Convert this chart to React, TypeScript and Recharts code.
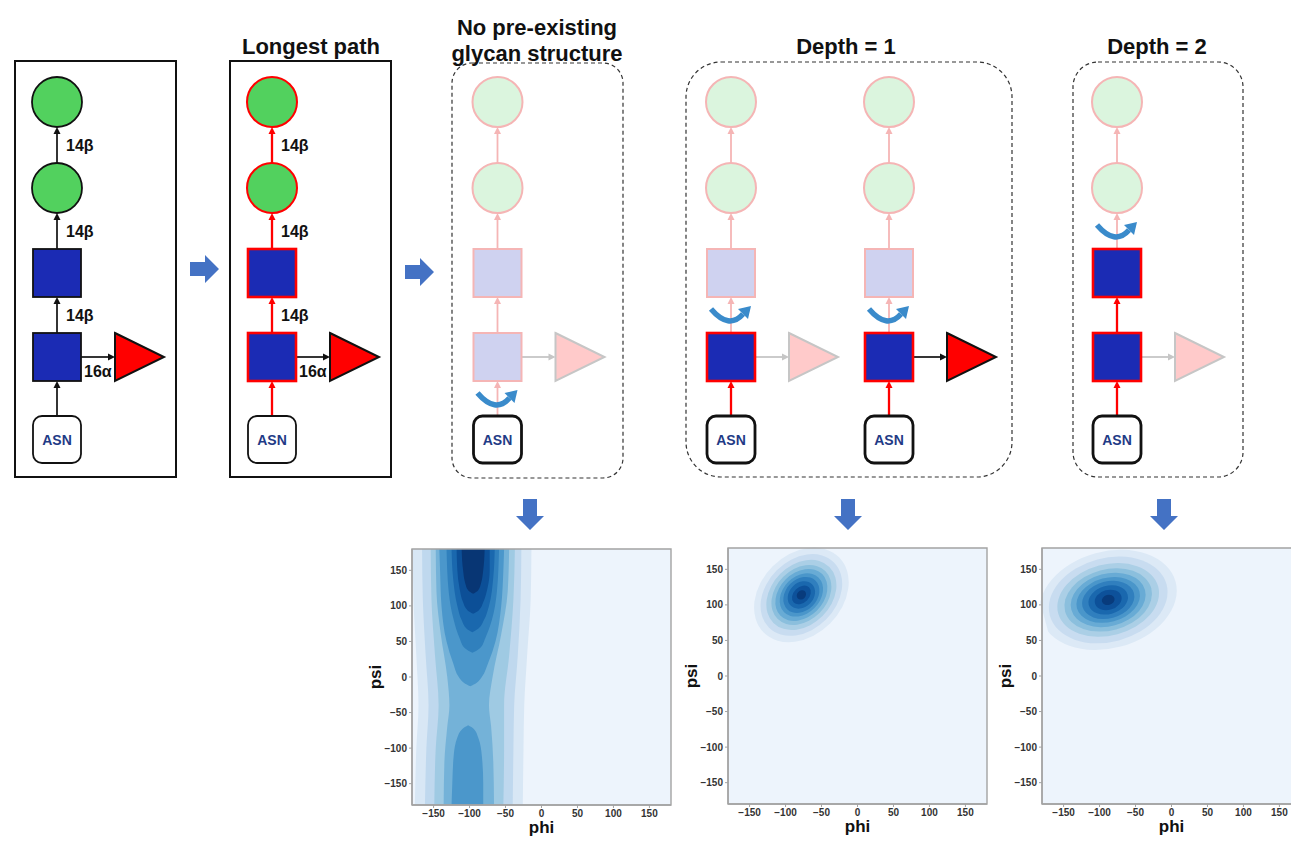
import React from "react";
import { Area, ComposedChart, ReferenceArea, Scatter, XAxis, YAxis } from "recharts";

const FONT = '"Liberation Sans", Arial, Helvetica, sans-serif';

// ---------- density maps ----------
const angleDomain: [number, number] = [-180, 180];
const phiTicks = [-150, -100, -50, 0, 50, 100, 150];
const psiTicks = [-150, -100, -50, 0, 50, 100, 150];

const kdeFloor = "#edf4fc";
const ellipseColors = ["#dce9f6", "#c8dcf0", "#abcfe6", "#8bbfdd", "#68abd5", "#4a96ca", "#307fbe", "#1a68ae", "#0d519a", "#083b7c"];

// "No pre-existing glycan structure": bands of phi (lo, hi) per psi row
const noStructFloor = [
  { psi: -180, phi: [-180, 180] },
  { psi: 180, phi: [-180, 180] },
];
const noStructLevel1 = [
  { psi: -180, phi: [-176, -26] },
  { psi: -100, phi: [-174, -25] },
  { psi: -40, phi: [-171, -24] },
  { psi: 30, phi: [-174, -20] },
  { psi: 110, phi: [-178, -15] },
  { psi: 180, phi: [-179, -14] },
];
const noStructLevel2 = [
  { psi: -180, phi: [-162, -40] },
  { psi: -100, phi: [-160, -39] },
  { psi: -40, phi: [-157, -38] },
  { psi: 30, phi: [-161, -33] },
  { psi: 110, phi: [-165, -29] },
  { psi: 180, phi: [-166, -28] },
];
const noStructLevel3 = [
  { psi: -180, phi: [-149, -53] },
  { psi: -100, phi: [-147, -52] },
  { psi: -40, phi: [-143, -52] },
  { psi: 30, phi: [-148, -45] },
  { psi: 110, phi: [-153, -39] },
  { psi: 180, phi: [-154, -37] },
];
const noStructLevel4 = [
  { psi: -180, phi: [-136, -66] },
  { psi: -120, phi: [-135, -67] },
  { psi: -70, phi: [-131, -70] },
  { psi: -40, phi: [-128, -73] },
  { psi: 0, phi: [-131, -68] },
  { psi: 60, phi: [-140, -56] },
  { psi: 120, phi: [-146, -47] },
  { psi: 180, phi: [-147, -45] },
];
const noStructLower5 = [
  { psi: -180, phi: [-125, -81] },
  { psi: -150, phi: [-124, -81] },
  { psi: -110, phi: [-122, -83] },
  { psi: -85, phi: [-117, -88] },
  { psi: -73, phi: [-110, -94] },
  { psi: -68, phi: [-102, -102] },
];
const noStructLevel5 = [
  { psi: -13, phi: [-99, -99] },
  { psi: -8, phi: [-108, -90] },
  { psi: 0, phi: [-115, -83] },
  { psi: 20, phi: [-123, -74] },
  { psi: 50, phi: [-132, -64] },
  { psi: 100, phi: [-139, -56] },
  { psi: 150, phi: [-141, -53] },
  { psi: 180, phi: [-142, -52] },
];
const noStructLevel6 = [
  { psi: 34, phi: [-96, -96] },
  { psi: 40, phi: [-106, -86] },
  { psi: 55, phi: [-114, -78] },
  { psi: 80, phi: [-122, -69] },
  { psi: 120, phi: [-129, -62] },
  { psi: 180, phi: [-132, -59] },
];
const noStructLevel7 = [
  { psi: 63, phi: [-96, -96] },
  { psi: 68, phi: [-104, -88] },
  { psi: 80, phi: [-111, -80] },
  { psi: 100, phi: [-117, -73] },
  { psi: 140, phi: [-123, -67] },
  { psi: 180, phi: [-125, -65] },
];
const noStructLevel8 = [
  { psi: 89, phi: [-95, -95] },
  { psi: 94, phi: [-103, -87] },
  { psi: 105, phi: [-109, -81] },
  { psi: 125, phi: [-114, -75] },
  { psi: 150, phi: [-117, -72] },
  { psi: 180, phi: [-118, -72] },
];
const noStructLevel9 = [
  { psi: 117, phi: [-95, -95] },
  { psi: 122, phi: [-102, -88] },
  { psi: 132, phi: [-106, -84] },
  { psi: 150, phi: [-109, -81] },
  { psi: 180, phi: [-111, -79] },
];
const noStructLevels = [
  { data: noStructFloor, color: kdeFloor },
  { data: noStructLevel1, color: "#d8e7f5" },
  { data: noStructLevel2, color: "#bfd8ee" },
  { data: noStructLevel3, color: "#9fcae3" },
  { data: noStructLevel4, color: "#74b2d8" },
  { data: noStructLower5, color: "#4b97cb" },
  { data: noStructLevel5, color: "#4b97cb" },
  { data: noStructLevel6, color: "#3080bd" },
  { data: noStructLevel7, color: "#1a68ae" },
  { data: noStructLevel8, color: "#0c4f97" },
  { data: noStructLevel9, color: "#083674" },
];

// Depth = 1 and Depth = 2: nested, tilted contours (semi-axes in degrees)
const depth1Peak = { phi: -78, psi: 114 };
const depth1Tilt = 45;
const depth1Rx = [74, 64, 55, 47, 41, 34, 28, 21, 15, 7];
const depth1Ry = [57, 49, 42, 36, 31, 26, 22, 17, 11, 6];

const depth2Peak = { phi: -88, psi: 107 };
const depth2Tilt = 15;
const depth2Rx = [97, 84, 72, 62, 53, 45, 37, 28, 19, 9];
const depth2Ry = [68, 59, 50, 43, 37, 31, 26, 20, 14, 7];

const FRAME = "#a3a3a3";
const TICK = { fontSize: 10, fontWeight: 700, fill: "#333", fontFamily: FONT };
const minus = (v: number) => String(v).replace("-", "\u2212");

function mapAxes(vertical: boolean) {
  return [
    <XAxis
      key="x"
      type="number"
      dataKey={vertical ? undefined : "phi"}
      domain={angleDomain}
      allowDataOverflow
      ticks={phiTicks}
      interval={0}
      height={35}
      tickSize={3}
      tickLine={{ stroke: FRAME }}
      axisLine={{ stroke: FRAME, strokeWidth: 1.4 }}
      tick={TICK}
      tickFormatter={minus}
      label={{ value: "phi", position: "insideBottom", offset: 7, fontSize: 17, fontWeight: 700, fill: "#111", fontFamily: FONT }}
    />,
    <YAxis
      key="y"
      type="number"
      dataKey="psi"
      reversed={vertical}
      domain={angleDomain}
      allowDataOverflow
      ticks={psiTicks}
      interval={0}
      width={52}
      tickSize={3}
      tickLine={{ stroke: FRAME }}
      axisLine={{ stroke: FRAME, strokeWidth: 1.4 }}
      tick={TICK}
      tickFormatter={minus}
      label={{ value: "psi", angle: -90, position: "insideLeft", offset: 15, fontSize: 17, fontWeight: 700, fill: "#111", fontFamily: FONT, style: { textAnchor: "middle" } }}
    />,
    <ReferenceArea key="frame" x1={-180} x2={180} y1={-180} y2={180} fill="none" fillOpacity={0} stroke={FRAME} strokeWidth={1.4} ifOverflow="visible" />,
  ];
}

function NoStructureMap() {
  return (
    <ComposedChart layout="vertical" width={320} height={300} margin={{ top: 9, right: 9, bottom: 0, left: 0 }}>
      {noStructLevels.map((lvl, i) => (
        <Area
          key={i}
          data={lvl.data}
          dataKey="phi"
          type="monotone"
          fill={lvl.color}
          fillOpacity={1}
          stroke="none"
          dot={false}
          activeDot={false}
          isAnimationActive={false}
        />
      ))}
      {mapAxes(true)}
    </ComposedChart>
  );
}

function tiltedEllipse(tilt: number, color: string) {
  return (p: any) => {
    const w = Math.abs(p.width) / 2;
    const h = Math.abs(p.height) / 2;
    const cx = p.x + p.width / 2;
    const cy = p.y + p.height / 2;
    return <ellipse cx={cx} cy={cy} rx={w} ry={h} fill={color} transform={`rotate(${-tilt} ${cx} ${cy})`} clipPath={p.clipPath} />;
  };
}

function EllipseMap({ peak, tilt, rx, ry }: { peak: { phi: number; psi: number }; tilt: number; rx: number[]; ry: number[] }) {
  return (
    <ComposedChart data={[peak]} width={320} height={300} margin={{ top: 9, right: 9, bottom: 0, left: 0 }}>
      <ReferenceArea x1={-180} x2={180} y1={-180} y2={180} fill={kdeFloor} fillOpacity={1} stroke="none" ifOverflow="hidden" />
      {rx.map((r, i) => (
        <ReferenceArea
          key={i}
          x1={peak.phi - r}
          x2={peak.phi + r}
          y1={peak.psi - ry[i]}
          y2={peak.psi + ry[i]}
          fill={ellipseColors[i]}
          fillOpacity={1}
          stroke="none"
          ifOverflow="hidden"
          shape={tiltedEllipse(tilt, ellipseColors[i])}
        />
      ))}
      <Scatter dataKey="psi" fill="none" shape={() => <g />} isAnimationActive={false} />
      {mapAxes(false)}
    </ComposedChart>
  );
}

// ---------- glycan diagrams ----------
const INK = "#111111";
const GREEN = "#52d15e";
const BLUE = "#1b2bb4";
const RED = "#ff0000";
const FADE_GREEN = "#dbf5de";
const FADE_BLUE = "#cfd2f0";
const FADE_RED = "#ffcaca";
const FADE_EDGE = "#f5b5b5";
const FADE_GRAY = "#c6c6c6";
const SWIRL = "#3a8bcb";
const BLOCK = "#4472c4";

const C1_Y = 102;
const C2_Y = 188;
const R = 25;
const SQ = 48;
const S1_TOP = 249;
const S2_TOP = 333;
const ASN_TOP = 416;

type Look = "ink" | "path" | "fade";
type Link = "ink" | "path" | "fade" | "gray";
interface Column {
  cx: number;
  c1: Look; c2: Look; s1: Look; s2: Look; tri: Look;
  l3: Link; l2: Link; l1: Link; l0: Link; lh: Link;
  labels?: boolean;
  swirlY?: number;
  asnW?: number;
}

const columns: Column[] = [
  { cx: 57, c1: "ink", c2: "ink", s1: "ink", s2: "ink", tri: "ink", l3: "ink", l2: "ink", l1: "ink", l0: "ink", lh: "ink", labels: true, asnW: 1.8 },
  { cx: 272, c1: "path", c2: "path", s1: "path", s2: "path", tri: "ink", l3: "path", l2: "path", l1: "path", l0: "path", lh: "ink", labels: true, asnW: 1.8 },
  { cx: 497.5, c1: "fade", c2: "fade", s1: "fade", s2: "fade", tri: "fade", l3: "fade", l2: "fade", l1: "fade", l0: "fade", lh: "gray", swirlY: 399, asnW: 2.8 },
  { cx: 731, c1: "fade", c2: "fade", s1: "fade", s2: "path", tri: "fade", l3: "fade", l2: "fade", l1: "fade", l0: "path", lh: "gray", swirlY: 315, asnW: 2.8 },
  { cx: 889, c1: "fade", c2: "fade", s1: "fade", s2: "path", tri: "ink", l3: "fade", l2: "fade", l1: "fade", l0: "path", lh: "ink", swirlY: 315, asnW: 2.8 },
  { cx: 1117, c1: "fade", c2: "fade", s1: "path", s2: "path", tri: "fade", l3: "fade", l2: "fade", l1: "path", l0: "path", lh: "gray", swirlY: 231, asnW: 2.8 },
];

const linkStyle: Record<Link, { c: string; w: number }> = {
  ink: { c: INK, w: 1.7 },
  path: { c: RED, w: 2.3 },
  fade: { c: FADE_EDGE, w: 1.8 },
  gray: { c: FADE_GRAY, w: 1.8 },
};

function VLink({ x, from, to, kind }: { x: number; from: number; to: number; kind: Link }) {
  const s = linkStyle[kind];
  return (
    <g>
      <line x1={x} y1={from} x2={x} y2={to + 5} stroke={s.c} strokeWidth={s.w} />
      <polygon points={`${x},${to} ${x - 3.5},${to + 7} ${x + 3.5},${to + 7}`} fill={s.c} />
    </g>
  );
}

function HLink({ y, from, to, kind }: { y: number; from: number; to: number; kind: Link }) {
  const s = linkStyle[kind];
  return (
    <g>
      <line x1={from} y1={y} x2={to - 5} y2={y} stroke={s.c} strokeWidth={s.w} />
      <polygon points={`${to},${y} ${to - 7},${y - 3.5} ${to - 7},${y + 3.5}`} fill={s.c} />
    </g>
  );
}

function Swirl({ cx, cy }: { cx: number; cy: number }) {
  return (
    <g>
      <path d={`M ${cx - 20} ${cy - 6} Q ${cx - 2} ${cy + 15} ${cx + 12} ${cy - 1}`} fill="none" stroke={SWIRL} strokeWidth={5.5} />
      <polygon points={`${cx + 20},${cy - 9} ${cx + 17},${cy + 4} ${cx + 7},${cy - 6}`} fill={SWIRL} />
    </g>
  );
}

function circleLook(l: Look) {
  if (l === "ink") return { fill: GREEN, stroke: INK, strokeWidth: 1.8 };
  if (l === "path") return { fill: GREEN, stroke: RED, strokeWidth: 2 };
  return { fill: FADE_GREEN, stroke: FADE_EDGE, strokeWidth: 2 };
}
function squareLook(l: Look) {
  if (l === "ink") return { fill: BLUE, stroke: INK, strokeWidth: 1.8 };
  if (l === "path") return { fill: BLUE, stroke: RED, strokeWidth: 2.6 };
  return { fill: FADE_BLUE, stroke: FADE_EDGE, strokeWidth: 2 };
}
function triLook(l: Look) {
  if (l === "fade") return { fill: FADE_RED, stroke: FADE_GRAY, strokeWidth: 2 };
  return { fill: RED, stroke: INK, strokeWidth: 2 };
}

function GlycanColumn({ col }: { col: Column }) {
  const { cx } = col;
  const triL = cx + 58;
  const triY = S2_TOP + SQ / 2;
  const lbl = { fontSize: 16, fontWeight: 700, fill: INK, fontFamily: FONT, dominantBaseline: "central" as const };
  return (
    <g>
      <VLink x={cx} from={ASN_TOP} to={S2_TOP + SQ} kind={col.l0} />
      <VLink x={cx} from={S2_TOP} to={S1_TOP + SQ} kind={col.l1} />
      <VLink x={cx} from={S1_TOP} to={C2_Y + R} kind={col.l2} />
      <VLink x={cx} from={C2_Y - R} to={C1_Y + R} kind={col.l3} />
      <HLink y={triY} from={cx + SQ / 2} to={triL} kind={col.lh} />
      <circle cx={cx} cy={C1_Y} r={R} {...circleLook(col.c1)} />
      <circle cx={cx} cy={C2_Y} r={R} {...circleLook(col.c2)} />
      <rect x={cx - SQ / 2} y={S1_TOP} width={SQ} height={SQ} {...squareLook(col.s1)} />
      <rect x={cx - SQ / 2} y={S2_TOP} width={SQ} height={SQ} {...squareLook(col.s2)} />
      <polygon points={`${triL},${S2_TOP} ${triL + 49},${triY} ${triL},${S2_TOP + SQ}`} {...triLook(col.tri)} />
      <rect x={cx - 24} y={ASN_TOP} width={48} height={47} rx={9} fill="#fff" stroke={INK} strokeWidth={col.asnW ?? 2} />
      <text x={cx} y={ASN_TOP + 24} textAnchor="middle" dominantBaseline="central" fontSize={14} fontWeight={700} fill="#1f3b86" fontFamily={FONT}>
        ASN
      </text>
      {col.labels && (
        <g>
          <text x={cx + 9} y={145} {...lbl}>14β</text>
          <text x={cx + 9} y={231} {...lbl}>14β</text>
          <text x={cx + 9} y={315} {...lbl}>14β</text>
          <text x={cx + 27} y={371} {...lbl}>16α</text>
        </g>
      )}
      {col.swirlY !== undefined && <Swirl cx={cx} cy={col.swirlY} />}
    </g>
  );
}

function RightBlock({ x, y }: { x: number; y: number }) {
  return <polygon points={`${x},${y - 7} ${x + 15},${y - 7} ${x + 15},${y - 14} ${x + 29},${y} ${x + 15},${y + 14} ${x + 15},${y + 7} ${x},${y + 7}`} fill={BLOCK} />;
}
function DownBlock({ x, y }: { x: number; y: number }) {
  return <polygon points={`${x - 7},${y} ${x + 7},${y} ${x + 7},${y + 17} ${x + 14},${y + 17} ${x},${y + 31} ${x - 14},${y + 17} ${x - 7},${y + 17}`} fill={BLOCK} />;
}

function Diagram() {
  const title = { fontSize: 22, fontWeight: 700, fill: INK, fontFamily: FONT, textAnchor: "middle" as const, dominantBaseline: "central" as const };
  return (
    <svg width={1291} height={843} style={{ position: "absolute", left: 0, top: 0 }}>
      <rect x={15} y={61} width={161} height={416} fill="none" stroke={INK} strokeWidth={2} />
      <rect x={230} y={61} width={161} height={416} fill="none" stroke={INK} strokeWidth={2} />
      <rect x={452} y={63} width={171} height={415} rx={20} fill="none" stroke="#333" strokeWidth={1.2} strokeDasharray="4 3" />
      <rect x={686} y={62} width={326} height={415} rx={35} fill="none" stroke="#333" strokeWidth={1.2} strokeDasharray="4 3" />
      <rect x={1073} y={62} width={170} height={415} rx={25} fill="none" stroke="#333" strokeWidth={1.2} strokeDasharray="4 3" />
      <text x={311} y={46} {...title}>Longest path</text>
      <text x={537} y={27} {...title}>No pre-existing</text>
      <text x={537} y={53} {...title}>glycan structure</text>
      <text x={846} y={46} {...title}>Depth = 1</text>
      <text x={1157} y={46} {...title}>Depth = 2</text>
      {columns.map((c, i) => (
        <GlycanColumn key={i} col={c} />
      ))}
      <RightBlock x={190} y={269} />
      <RightBlock x={405} y={272} />
      <DownBlock x={530} y={499} />
      <DownBlock x={848} y={499} />
      <DownBlock x={1164} y={499} />
    </svg>
  );
}

export default function App() {
  return (
    <div style={{ position: "fixed", left: 0, top: 0, width: 1291, height: 843, overflow: "hidden", background: "#fff", fontFamily: FONT }}>
      <Diagram />
      <div style={{ position: "absolute", left: 360, top: 540 }}>
        <NoStructureMap />
      </div>
      <div style={{ position: "absolute", left: 676, top: 539 }}>
        <EllipseMap peak={depth1Peak} tilt={depth1Tilt} rx={depth1Rx} ry={depth1Ry} />
      </div>
      <div style={{ position: "absolute", left: 990, top: 539 }}>
        <EllipseMap peak={depth2Peak} tilt={depth2Tilt} rx={depth2Rx} ry={depth2Ry} />
      </div>
    </div>
  );
}
